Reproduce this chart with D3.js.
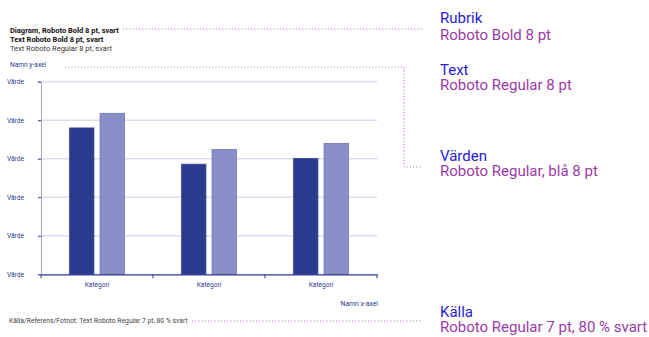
<!DOCTYPE html>
<html>
  <head>
    <meta charset="utf-8">
    <title>Diagrammall</title>
    <style>
      body { margin: 0; background: #fff; }
      svg text { font-family: Roboto, sans-serif; }
    </style>
  </head>
  <body>
    <svg width="649" height="337"></svg>
  </body>
  <script src="https://cdn.jsdelivr.net/npm/d3@7"></script>
  <script type="text/javascript">
  // data
  var categories = ['Kategori', 'Kategori', 'Kategori'];
  var seriesNames = ['Serie 1', 'Serie 2'];
  var serie1 = [3.8, 2.86, 3.01];
  var serie2 = [4.18, 3.24, 3.4];
  var yTicks = [0, 1, 2, 3, 4, 5];
  var yTickLabels = ['Värde', 'Värde', 'Värde', 'Värde', 'Värde', 'Värde'];

  var colors = ['#2b3a8e', '#8a8ec6'];
  var blue = '#2b3a8e';
  var purple = '#9b3aa6';
  var guideBlue = '#2a1bd0';

  var svg = d3.select('svg');
  var mLeft = 41, mRight = 377, mTop = 81.7, mBottom = 274.3;

  var x = d3.scaleBand().domain(d3.range(categories.length)).range([mLeft, mRight]).paddingInner(0).paddingOuter(0);
  var x1 = d3.scaleBand().domain(d3.range(seriesNames.length)).range([28.5, x.bandwidth() - 28.5]).paddingInner(0.2);
  var y = d3.scaleLinear().domain([0, 5]).range([mBottom, mTop]);

  // texts top left
  svg.append('text').attr('x', 10).attr('y', 33).attr('font-size', 7.5).attr('font-weight', 'bold').attr('fill', '#111')
    .text('Diagram, Roboto Bold 8 pt, svart');
  svg.append('text').attr('x', 10).attr('y', 42).attr('font-size', 7.5).attr('font-weight', 'bold').attr('fill', '#111')
    .text('Text Roboto Bold 8 pt, svart');
  svg.append('text').attr('x', 10).attr('y', 51).attr('font-size', 7.5).attr('fill', '#333')
    .text('Text Roboto Regular 8 pt, svart');
  svg.append('text').attr('x', 10).attr('y', 66.5).attr('font-size', 6.6).attr('fill', blue)
    .text('Namn y-axel');

  // gridlines
  svg.append('g').selectAll('line').data(yTicks.slice(1)).enter().append('line')
    .attr('x1', mLeft).attr('x2', mRight)
    .attr('y1', function(d) { return y(d); }).attr('y2', function(d) { return y(d); })
    .attr('stroke', '#dcdcee').attr('stroke-width', 1.5);

  // y axis
  var yAxis = d3.axisLeft(y).tickValues(yTicks).tickSize(3).tickPadding(14)
    .tickFormat(function(d, i) { return yTickLabels[i]; });
  var gy = svg.append('g').attr('transform', 'translate(' + mLeft + ',0)').call(yAxis);
  gy.select('.domain').attr('stroke', '#a3a7d6').attr('stroke-width', 1);
  gy.selectAll('.tick line').attr('stroke', blue);
  gy.selectAll('.tick text').attr('fill', blue).attr('font-size', 6.6).attr('font-family', 'Roboto, sans-serif');

  // bars
  var groups = svg.append('g').selectAll('g').data(categories).enter().append('g')
    .attr('transform', function(d, i) { return 'translate(' + x(i) + ',0)'; });
  groups.selectAll('rect').data(function(d, i) { return [serie1[i], serie2[i]]; }).enter().append('rect')
    .attr('x', function(d, j) { return x1(j); })
    .attr('width', x1.bandwidth())
    .attr('y', function(d) { return y(d); })
    .attr('height', function(d) { return mBottom - y(d); })
    .attr('fill', function(d, j) { return colors[j]; })
    .attr('stroke', function(d, j) { return j === 0 ? '#3d4c9c' : '#6f75b8'; })
    .attr('stroke-width', 0.8);

  // x axis
  var xAxis = d3.axisBottom(x).tickSize(0).tickPadding(8).tickFormat(function(d, i) { return categories[i]; });
  var gx = svg.append('g').attr('transform', 'translate(0,' + mBottom + ')').call(xAxis);
  gx.select('.domain').attr('stroke', blue).attr('stroke-width', 1.2);
  gx.selectAll('.tick text').attr('fill', blue).attr('font-size', 6.6).attr('font-family', 'Roboto, sans-serif');
  var edges = d3.range(categories.length + 1).map(function(i) { return mLeft + i * x.bandwidth(); });
  gx.selectAll('.edge').data(edges).enter().append('line').attr('class', 'edge')
    .attr('x1', function(d) { return d; }).attr('x2', function(d) { return d; })
    .attr('y1', 0).attr('y2', 4).attr('stroke', blue).attr('stroke-width', 1);

  svg.append('text').attr('x', 378).attr('y', 306).attr('text-anchor', 'end').attr('font-size', 6.8).attr('fill', blue)
    .text('Namn x-axel');

  // source
  svg.append('line').attr('x1', 9).attr('x2', 55).attr('y1', 313).attr('y2', 313)
    .attr('stroke', '#ddd').attr('stroke-width', 0.6).attr('stroke-dasharray', '3,4');
  svg.append('text').attr('x', 9).attr('y', 323).attr('font-size', 6.8).attr('fill', '#444')
    .text('Källa/Referens/Fotnot: Text Roboto Regular 7 pt, 80 % svart');

  // guide lines (dotted)
  var dots = svg.append('g').attr('fill', 'none').attr('stroke', purple).attr('stroke-width', 1)
    .attr('stroke-dasharray', '1,2.2').attr('opacity', 0.75);
  dots.append('path').attr('d', 'M123,29H422');
  dots.append('path').attr('d', 'M65,67H404V167H422');
  dots.append('path').attr('d', 'M192,321H422');

  // guide labels right
  var guides = [
    { t: 'Rubrik', s: 'Roboto Bold 8 pt', y: 22.5, gap: 17.5 },
    { t: 'Text', s: 'Roboto Regular 8 pt', y: 75, gap: 15 },
    { t: 'Värden', s: 'Roboto Regular, blå 8 pt', y: 161, gap: 15 },
    { t: 'Källa', s: 'Roboto Regular 7 pt, 80 % svart', y: 317, gap: 15 }
  ];
  var gl = svg.append('g').selectAll('g').data(guides).enter().append('g');
  gl.append('text').attr('x', 440).attr('y', function(d) { return d.y; })
    .attr('font-size', 15).attr('fill', guideBlue).text(function(d) { return d.t; });
  gl.append('text').attr('x', 440).attr('y', function(d) { return d.y + d.gap; })
    .attr('font-size', 15).attr('fill', purple).text(function(d) { return d.s; });
  </script>
</html>
